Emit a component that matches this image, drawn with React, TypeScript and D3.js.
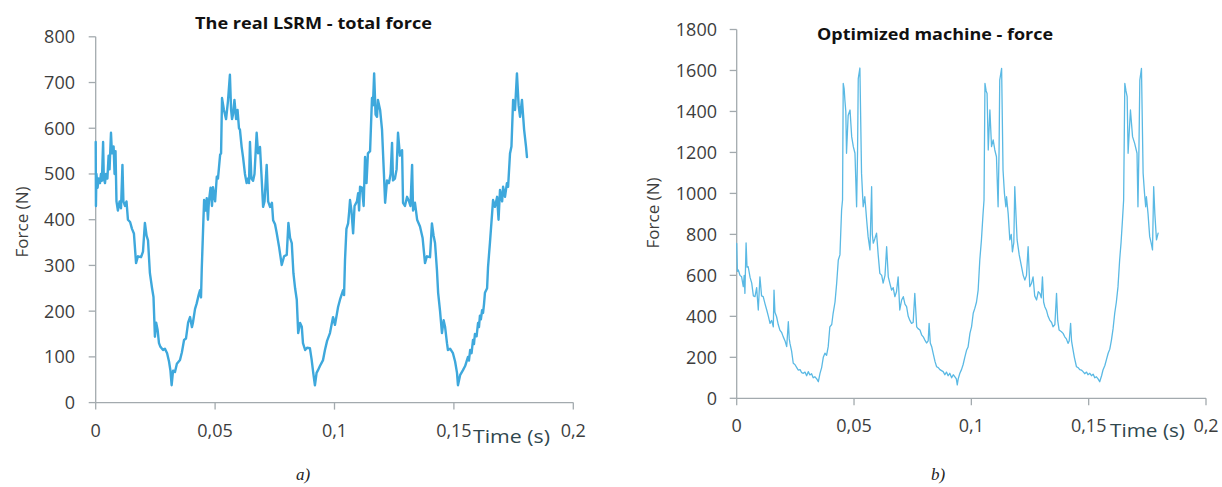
import React from "react";
import * as d3 from "d3";

// Real LSRM – total force, time in ms and force in N
const lsrmTimeMs = [
  0, 0.1, 0.3, 0.8, 1.2, 1.8, 2.2, 2.6, 3.1, 3.4, 3.9, 4.3, 4.9, 5.4, 5.8, 6.4, 6.8, 7.5, 7.9, 8.3,
  8.7, 9.3, 10.0, 10.6, 11.2, 11.6, 12.3, 12.9, 13.5, 14.4, 15.2, 16.0, 16.9, 17.7, 19.0, 19.8, 20.6,
  21.3, 21.9, 22.7, 23.6, 24.2, 24.8, 25.3, 25.9, 26.5, 27.1, 28.2, 29.0, 29.9, 30.7, 31.3, 31.8, 32.4,
  33.2, 34.0, 35.3, 36.1, 37.0, 37.8, 38.7, 39.5, 40.3, 40.7, 41.6, 42.3, 43.1, 43.7, 44.1, 44.4, 45.1,
  45.4, 46.0, 46.5, 47.0, 47.4, 48.1, 48.7, 49.1, 50.0, 50.7, 51.2, 52.1, 52.5, 52.9, 53.7, 54.6, 55.4,
  56.2, 56.7, 57.1, 57.5, 58.1, 58.8, 59.4, 60.0, 60.4, 61.1, 61.7, 62.5, 63.2, 63.8, 64.2, 64.6, 65.2,
  65.9, 66.5, 67.4, 68.0, 68.8, 69.4, 70.1, 70.7, 71.6, 72.2, 73.0, 73.8, 74.3, 75.1, 75.8, 76.8, 77.9,
  78.9, 80.0, 80.7, 81.4, 82.1, 82.8, 83.5, 84.2, 84.8, 85.6, 86.3, 86.8, 87.7, 88.5, 89.7, 90.4, 91.1,
  91.8, 92.5, 93.1, 93.9, 95.2, 96.0, 96.9, 98.1, 99.4, 100.2, 101.5, 102.3, 103.6, 104.0, 104.4, 105.0,
  105.7, 106.1, 106.5, 107.1, 107.8, 108.4, 109.4, 109.9, 110.3, 110.7, 111.5, 112.2, 112.8, 113.4,
  114.0, 114.9, 115.7, 116.1, 116.6, 117.2, 117.8, 118.2, 119.1, 119.9, 120.7, 121.2, 122.0, 122.8,
  123.5, 124.1, 124.5, 125.3, 126.0, 126.6, 127.4, 128.3, 128.7, 129.5, 130.4, 131.2, 131.8, 132.5,
  132.9, 133.7, 134.6, 135.8, 136.9, 137.9, 138.7, 140.0, 140.8, 141.5, 142.1, 142.9, 143.4, 144.2,
  145.0, 145.7, 146.3, 147.1, 147.5, 148.4, 149.6, 150.5, 151.3, 151.7, 152.6, 153.8, 154.7, 155.9,
  156.3, 156.8, 157.4, 158.0, 158.4, 158.8, 159.5, 160.1, 160.5, 160.9, 161.3, 161.8, 162.2, 162.6,
  163.0, 163.9, 164.3, 165.1, 166.0, 166.4, 167.2,
  168.1, 168.7, 169.3, 170.2, 170.6, 171.4, 172.2, 172.7, 173.5, 174.1, 174.8, 175.6, 176.4, 177.1,
  177.7, 178.5, 179.4, 180.2, 180.6,
];
const lsrmForce = [
  570, 430, 500, 470, 490, 480, 500, 485, 570, 490, 480, 500, 490, 540, 510, 590, 545, 560, 500, 550,
  440, 420, 440, 425, 520, 440, 430, 440, 400, 395, 380, 370, 305, 320, 318, 330, 393,
  365, 355, 283, 250, 231, 144, 175, 160, 130, 122, 115, 118, 108, 90, 70, 38, 70,
  67, 85, 93, 110, 137, 140, 175, 187, 165, 174, 205, 217, 235, 246, 230, 290, 399,
  443, 420, 447, 400, 440, 470, 430, 471, 440, 494, 490, 542, 545, 666, 640, 620, 660,
  717, 640, 620, 630, 662, 620, 640, 600, 597, 560, 537, 500, 480, 490, 480, 570, 490,
  485, 500, 590, 545, 559, 500, 428, 440, 520, 440, 428, 437, 399, 390, 371, 340, 301,
  320, 323, 393, 360, 349, 283, 250, 225, 152, 174, 166, 130, 115, 120, 119, 95, 65,
  38, 65, 71, 80, 93, 115, 135, 152, 187, 170, 209, 225, 246, 235, 312, 380,
  392, 415, 443, 420, 370, 430, 440, 458, 420, 472, 470, 430, 537, 480,
  545, 550, 666, 650, 720, 630, 625, 662, 640, 597, 500, 437, 486, 480,
  500, 568, 486, 490, 510, 590, 540, 552, 437, 430, 450, 440, 430, 520,
  420, 437, 400, 385, 360, 305, 320, 318, 392, 365, 349, 290, 240, 200,
  152, 180, 166, 130, 115, 118, 108, 90, 65, 38, 60, 71, 80, 100,
  92, 115, 108, 137, 128, 150, 145, 174, 165, 190, 182, 202, 196, 215,
  240, 250, 297, 350, 414, 443, 428,
  450, 400, 465, 440, 472, 450, 480, 472, 545, 560, 662, 640, 720, 650,
  625, 662, 597, 560, 537,
];

// Optimized machine – force, time in ms and force in N
const optTimeMs = [
  0, 0.3, 0.7, 1.4, 2.1, 2.8, 3.2, 3.5, 4.0, 4.4, 4.9, 5.7, 6.4, 7.1, 7.8, 8.5, 9.2, 9.9, 10.6, 11.3,
  12.1, 12.8, 13.5, 14.2, 14.9, 15.6, 15.9, 16.3, 17.0, 17.7, 18.4, 19.2, 19.8, 20.6, 21.3, 22.0, 22.4,
  22.7, 23.4, 24.1, 24.8, 25.6, 26.2, 27.0, 27.7, 28.4, 29.1, 29.8, 30.5, 31.2, 31.9, 32.6, 33.3, 34.1,
  34.8, 35.5, 36.2, 36.9, 37.6, 38.3, 39.0, 39.7, 40.5, 41.1, 41.9, 42.6, 43.3, 44.0, 44.7, 45.1, 45.4,
  45.8, 46.1, 46.5, 46.8, 47.5, 48.3, 49.0, 49.7, 50.4, 51.1, 51.5, 51.8, 52.5, 53.2, 53.9, 54.6, 55.4,
  56.0, 56.8, 57.5, 57.8, 58.2, 58.9, 59.6, 60.3, 61.0, 61.8, 62.4, 63.2, 63.9, 64.6, 65.3, 66.0, 66.7,
  67.4, 68.1, 68.8, 69.5, 70.3, 71.0, 71.7, 72.4, 73.1, 73.8, 74.5, 75.2, 75.9, 76.7, 77.3, 78.1, 78.8,
  79.5, 80.2, 80.9, 81.6, 82.0, 82.5, 83.1, 83.7, 84.5, 85.2, 85.9, 86.6, 87.3, 88.0, 88.7, 89.4, 90.1,
  90.8, 91.6, 92.3, 93.0, 93.6, 94.0, 94.4, 95.1, 95.8, 96.5, 97.2, 98.0, 98.6, 99.4, 100.1, 100.8,
  101.5, 102.2, 102.9, 103.6, 104.3, 105.0, 105.4, 105.8, 106.3, 106.7, 107.2, 107.9, 108.6, 109.3,
  110.0, 110.7, 111.4, 111.8, 112.1, 112.9, 113.5, 114.1, 114.7, 115.0, 115.7, 116.4, 117.0, 117.5,
  118.1, 118.5, 119.0, 119.5, 120.4, 121.4, 122.1, 122.8, 123.5, 124.2, 124.9, 125.6, 126.3, 127.0,
  127.8, 128.5, 129.2, 129.8, 130.3, 130.8, 131.3, 132.0, 132.7, 133.4, 134.2, 134.8, 135.6, 136.3,
  136.8, 137.4, 138.4, 139.1, 139.8, 140.5, 141.2, 141.7, 142.3, 142.7, 143.1, 143.9, 144.8, 145.5,
  146.2, 146.9, 147.6, 148.3, 149.1, 149.7, 150.5, 151.2, 151.9, 152.6, 153.3, 154.0, 154.7, 155.5,
  156.1, 156.9, 157.6, 158.3, 159.0, 159.7, 160.4, 161.1, 161.8, 162.5, 163.2, 163.8, 164.4, 164.9,
  165.4, 165.9, 166.4, 166.8, 167.8, 168.7, 169.6, 170.6, 171.0, 171.4, 171.8, 172.5, 173.2, 173.8,
  174.3, 174.6, 175.3, 176.0, 176.6, 177.2, 177.7, 178.2, 178.9, 179.6,
];
const optForce = [
  756, 620, 626, 600, 593, 545, 600, 512, 758, 640, 642, 590, 562, 500, 496, 540, 431, 593, 500, 496,
  460, 431, 400, 366, 380, 349, 528, 420, 398, 360, 333, 320, 301, 280, 252, 374, 290,
  268, 230, 171, 165, 150, 138, 140, 125, 122, 128, 110, 130, 114, 120, 100, 105, 95,
  81, 122, 150, 200, 220, 210, 252, 349, 360, 415, 470, 561, 675, 700, 919, 968, 1537,
  1510, 1456, 1400, 1196, 1380, 1407, 1277, 1228, 1196, 935, 1200, 1560, 1612, 1099, 935, 984, 868,
  789, 724, 1033, 800, 757, 780, 806, 700, 610, 600, 562, 600, 740, 593, 560, 528, 540,
  496, 520, 593, 431, 480, 496, 460, 447, 400, 380, 366, 370, 512, 349, 340, 333, 310,
  300, 284, 270, 280, 366, 270, 252, 220, 180, 154, 150, 140, 135, 130, 115, 128, 110,
  122, 100, 115, 105, 95, 65, 95, 122, 140, 165, 200, 236, 250, 317, 350, 415,
  440, 470, 528, 675, 773, 903, 968, 1537, 1500, 1488, 1212, 1407, 1228, 1261,
  1212, 1179, 935, 1200, 1553, 1610, 1114, 1000, 935, 984, 900, 773, 800, 715,
  760, 1033, 900, 773, 700, 642, 600, 577, 600, 740, 545, 560, 593, 500,
  480, 520, 512, 490, 593, 470, 447, 430, 400, 382, 370, 349, 360, 512,
  380, 333, 325, 317, 300, 290, 268, 280, 366, 280, 252, 200, 154, 150,
  140, 138, 130, 120, 128, 115, 122, 110, 118, 100, 105, 95, 81, 110,
  138, 160, 190, 220, 240, 284, 340, 415, 470, 545, 675, 760, 870, 968,
  1537, 1500, 1472, 1196, 1407, 1277, 1244, 1196, 935, 1200, 1553, 1610, 1099, 1000,
  935, 984, 900, 789, 760, 724, 1033, 900, 773, 806,
];

const timeTicks = [0, 0.05, 0.1, 0.15, 0.2];
const lsrmForceTicks = [0, 100, 200, 300, 400, 500, 600, 700, 800];
const optForceTicks = [0, 200, 400, 600, 800, 1000, 1200, 1400, 1600, 1800];

const FONT = "'Open Sans', 'Noto Sans', sans-serif";
const AXIS = "#a3aaae";
const LABEL = "#3d3d3d";

const fmtTime = (v: number) => (v === 0 ? "0" : d3.format(".2~f")(v).replace(".", ","));

type PanelProps = {
  times: number[];
  forces: number[];
  forceTicks: number[];
  forceMax: number;
  x0: number;
  x1: number;
  yTop: number;
  yBottom: number;
  title: string;
  titleX: number;
  titleY: number;
  titleWidth: number;
  lineColor: string;
  lineWidth: number;
  tickLabelY: number;
  timeLabelX: number;
  timeLabelY: number;
  timeLabelWidth: number;
  forceLabelX: number;
  forceLabelY: number;
  yLabelRight: number;
  caption: string;
  captionX: number;
};

function Panel(p: PanelProps) {
  const x = d3.scaleLinear().domain([0, 0.2]).range([p.x0, p.x1]);
  const y = d3.scaleLinear().domain([0, p.forceMax]).range([p.yBottom, p.yTop]);
  const pts: [number, number][] = p.times.map((t, i) => [t / 1000, p.forces[i]]);
  const line = d3
    .line<[number, number]>()
    .x((d) => x(d[0]))
    .y((d) => y(d[1]));

  return (
    <g>
      {/* axes */}
      <line x1={p.x0} x2={p.x0} y1={p.yTop} y2={p.yBottom} stroke={AXIS} strokeWidth={1.3} />
      <line x1={p.x0} x2={p.x1} y1={p.yBottom} y2={p.yBottom} stroke={AXIS} strokeWidth={1.3} />
      {p.forceTicks.map((v) => (
        <g key={"y" + v}>
          <line x1={p.x0 - 7} x2={p.x0} y1={y(v)} y2={y(v)} stroke={AXIS} strokeWidth={1.3} />
          <text
            x={p.yLabelRight}
            y={y(v)}
            dy="0.36em"
            textAnchor="end"
            fontFamily={FONT}
            fontSize={18}
            fill={LABEL}
          >
            {v}
          </text>
        </g>
      ))}
      {timeTicks.map((v) => (
        <g key={"x" + v}>
          <line x1={x(v)} x2={x(v)} y1={p.yBottom} y2={p.yBottom + 7} stroke={AXIS} strokeWidth={1.3} />
          <text x={x(v)} y={p.tickLabelY} textAnchor="middle" fontFamily={FONT} fontSize={18} fill={LABEL}>
            {fmtTime(v)}
          </text>
        </g>
      ))}

      {/* series */}
      <path
        d={line(pts) ?? ""}
        fill="none"
        stroke={p.lineColor}
        strokeWidth={p.lineWidth}
        strokeLinejoin="round"
        strokeLinecap="round"
      />

      {/* titles and labels */}
      <text
        x={p.titleX}
        y={p.titleY}
        textAnchor="middle"
        fontFamily={FONT}
        fontWeight="bold"
        fontSize={16}
        fill="#111"
        textLength={p.titleWidth}
        lengthAdjust="spacingAndGlyphs"
      >
        {p.title}
      </text>
      <text
        x={p.timeLabelX}
        y={p.timeLabelY}
        fontFamily={FONT}
        fontSize={18}
        fill="#2f474e"
        textLength={p.timeLabelWidth}
        lengthAdjust="spacingAndGlyphs"
      >
        Time (s)
      </text>
      <text
        transform={`translate(${p.forceLabelX},${p.forceLabelY}) rotate(-90)`}
        textAnchor="middle"
        dy="0.35em"
        fontFamily={FONT}
        fontSize={17}
        fill={LABEL}
      >
        Force (N)
      </text>
      <text
        x={p.captionX}
        y={480}
        textAnchor="middle"
        fontFamily="'Liberation Serif', 'DejaVu Serif', serif"
        fontStyle="italic"
        fontSize={17}
        fill="#222"
      >
        {p.caption}
      </text>
    </g>
  );
}

export default function App() {
  return (
    <svg
      width={1222}
      height={487}
      viewBox="0 0 1222 487"
      style={{ position: "absolute", left: 0, top: 0, background: "#fff" }}
    >
      <rect width={1222} height={487} fill="#fff" />
      <Panel
        times={lsrmTimeMs}
        forces={lsrmForce}
        forceTicks={lsrmForceTicks}
        forceMax={800}
        x0={95.7}
        x1={573.3}
        yTop={36.8}
        yBottom={402.6}
        title="The real LSRM - total force"
        titleX={313.5}
        titleY={29}
        titleWidth={237}
        lineColor="#3ea8dc"
        lineWidth={2.4}
        tickLabelY={437}
        timeLabelX={473}
        timeLabelY={443}
        timeLabelWidth={77}
        forceLabelX={22}
        forceLabelY={222}
        yLabelRight={75}
        caption="a)"
        captionX={303}
      />
      <Panel
        times={optTimeMs}
        forces={optForce}
        forceTicks={optForceTicks}
        forceMax={1800}
        x0={736.7}
        x1={1206}
        yTop={29.5}
        yBottom={398.3}
        title="Optimized machine - force"
        titleX={935}
        titleY={40}
        titleWidth={236}
        lineColor="#5ab9e4"
        lineWidth={1.3}
        tickLabelY={432}
        timeLabelX={1110}
        timeLabelY={437}
        timeLabelWidth={75}
        forceLabelX={653}
        forceLabelY={213}
        yLabelRight={717}
        caption="b)"
        captionX={938}
      />
    </svg>
  );
}
